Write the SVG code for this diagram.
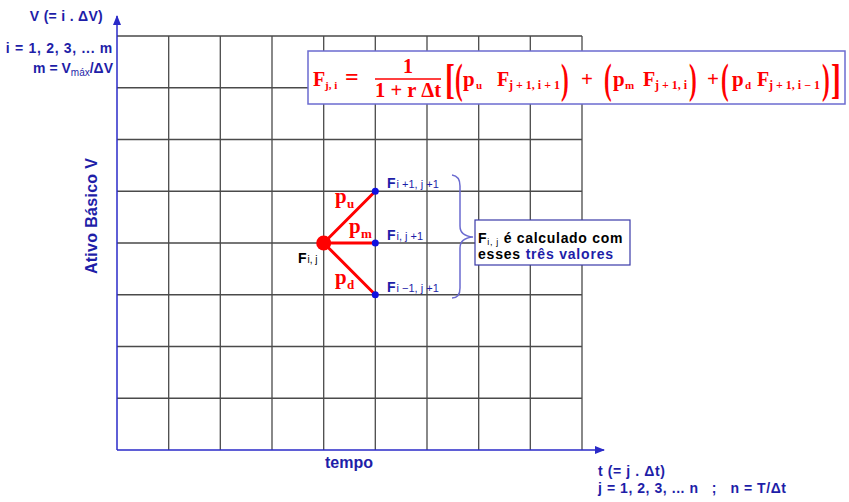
<svg xmlns="http://www.w3.org/2000/svg" width="849" height="502" viewBox="0 0 849 502">
<defs>
<style>
.grid{stroke:#4a4a4a;stroke-width:1.3;fill:none}
.axis{stroke:#2a2ac8;stroke-width:1.5;fill:none}
.blue{fill:#1e1ea8;font-family:"Liberation Sans",Arial,sans-serif;font-weight:bold}
.blk{fill:#000;font-family:"Liberation Sans",Arial,sans-serif;font-weight:bold}
.fr{fill:#f00;font-family:"Liberation Serif","Times New Roman",serif;font-weight:bold}
.br{fill:#f00;font-family:"Liberation Serif","Times New Roman",serif;font-weight:bold;font-size:42px}
.edge{stroke:#f00;stroke-width:3;stroke-linecap:round}
.pt{fill:#1010e0}
</style>
<marker id="arr" markerWidth="10" markerHeight="8" refX="9" refY="4" orient="auto" markerUnits="userSpaceOnUse">
<path d="M0,0 L10,4 L0,8 Z" fill="#2a2ac8"/>
</marker>
</defs>
<rect width="849" height="502" fill="#fff"/>

<g id="grid">
<path class="grid" d="M117,36H582M117,87.75H582M117,139.5H582M117,191.25H582M117,243H582M117,294.75H582M117,346.5H582M117,398.25H582"/>
<path class="grid" d="M168.7,36V450M220.3,36V450M272,36V450M323.7,36V450M375.3,36V450M427,36V450M478.7,36V450M530.3,36V450M582,36V450"/>
</g>

<g id="axes">
<line class="axis" x1="117" y1="450" x2="117" y2="16" marker-end="url(#arr)"/>
<line class="axis" x1="117" y1="450" x2="604" y2="450" marker-end="url(#arr)"/>
</g>

<g id="axis-labels">
<text class="blue" x="103" y="21" font-size="14" text-anchor="end" letter-spacing="0.3">V (= i . ΔV)</text>
<text class="blue" x="113" y="53" font-size="14" text-anchor="end" letter-spacing="0.7">i = 1, 2, 3, ... m</text>
<text class="blue" x="113" y="73" font-size="14" text-anchor="end">m = V<tspan font-size="10" font-weight="normal" dy="3">máx</tspan><tspan dy="-3">/ΔV</tspan></text>
<text class="blue" font-size="16" transform="translate(97,216) rotate(-90)" text-anchor="middle" letter-spacing="0.3">Ativo Básico V</text>
<text class="blue" x="325" y="468" font-size="16">tempo</text>
<text class="blue" x="598" y="476" font-size="14" letter-spacing="0.6">t (= j . Δt)</text>
<text class="blue" x="598" y="493" font-size="14" letter-spacing="0.55" xml:space="preserve">j = 1, 2, 3, ... n   ;   n = T/Δt</text>
</g>

<g id="formula">
<rect x="308" y="51" width="537" height="53" fill="#fff" stroke="#6b6bd0" stroke-width="1.5"/>
<text class="fr" x="313" y="86" font-size="20">F</text>
<text class="fr" x="325" y="89" font-size="11">j, i</text>
<text class="fr" x="345" y="85" font-size="24">=</text>
<text class="fr" x="408" y="73" font-size="20" text-anchor="middle">1</text>
<line x1="375" y1="79" x2="441" y2="79" stroke="#f00" stroke-width="1.5"/>
<text class="fr" x="375" y="97" font-size="20" textLength="66" lengthAdjust="spacingAndGlyphs">1 + r Δt</text>
<text class="br" transform="translate(445,93) scale(0.7,1)">[</text>
<text class="br" transform="translate(455,93) scale(0.55,1)">(</text>
<text class="fr" x="463" y="86" font-size="21">p</text>
<text class="fr" x="476" y="89" font-size="11">u</text>
<text class="fr" x="497" y="86" font-size="20">F</text>
<text class="fr" x="509" y="89" font-size="11.5" textLength="51" lengthAdjust="spacingAndGlyphs">j + 1, i + 1</text>
<text class="br" transform="translate(561,93) scale(0.55,1)">)</text>
<text class="fr" x="581" y="86" font-size="21">+</text>
<text class="br" transform="translate(604,93) scale(0.55,1)">(</text>
<text class="fr" x="613" y="86" font-size="21">p</text>
<text class="fr" x="625" y="89" font-size="11">m</text>
<text class="fr" x="643" y="86" font-size="20">F</text>
<text class="fr" x="655" y="89" font-size="11.5" textLength="32" lengthAdjust="spacingAndGlyphs">j + 1, i</text>
<text class="br" transform="translate(689,93) scale(0.55,1)">)</text>
<text class="fr" x="707" y="86" font-size="21">+</text>
<text class="br" transform="translate(721,93) scale(0.55,1)">(</text>
<text class="fr" x="732" y="86" font-size="21">p</text>
<text class="fr" x="745" y="89" font-size="11">d</text>
<text class="fr" x="757" y="86" font-size="20">F</text>
<text class="fr" x="769" y="89" font-size="11.5" textLength="51" lengthAdjust="spacingAndGlyphs">j + 1, i − 1</text>
<text class="br" transform="translate(822,93) scale(0.55,1)">)</text>
<text class="br" transform="translate(831,93) scale(0.7,1)">]</text>
</g>

<g id="connectors">
<line class="edge" x1="323.7" y1="243" x2="375.3" y2="191.25"/>
<line class="edge" x1="323.7" y1="243" x2="375.3" y2="243"/>
<line class="edge" x1="323.7" y1="243" x2="375.3" y2="294.75"/>
<path d="M452,175 Q460,176 460,186 V226 Q460,236 473,237 Q460,238 460,248 V288 Q460,298 452,298" fill="none" stroke="#6b6bd0" stroke-width="1.5"/>
</g>

<g id="edge-labels">
<text class="fr" x="335" y="203" font-size="21">p</text>
<text class="fr" x="347" y="208" font-size="13">u</text>
<text class="fr" x="349" y="233" font-size="21">p</text>
<text class="fr" x="361" y="238" font-size="13">m</text>
<text class="fr" x="335" y="284" font-size="21">p</text>
<text class="fr" x="347" y="289" font-size="13">d</text>
</g>

<g id="node-fij">
<circle cx="323.7" cy="243" r="7.5" fill="#f00"/>
<text class="blk" x="298" y="263" font-size="14">F<tspan font-size="10" font-weight="normal" dx="1">i, j</tspan></text>
</g>
<g id="node-up">
<circle class="pt" cx="375.3" cy="191.25" r="3.5"/>
<text class="blue" x="387" y="188" font-size="14">F<tspan font-size="11" font-weight="normal" dx="1" xml:space="preserve">i +1, j +1</tspan></text>
</g>
<g id="node-mid">
<circle class="pt" cx="375.3" cy="243" r="3.5"/>
<text class="blue" x="387" y="240" font-size="14">F<tspan font-size="11" font-weight="normal" dx="1">i, j +1</tspan></text>
</g>
<g id="node-down">
<circle class="pt" cx="375.3" cy="294.75" r="3.5"/>
<text class="blue" x="387" y="292" font-size="14">F<tspan font-size="11" font-weight="normal" dx="1">i −1, j +1</tspan></text>
</g>

<g id="note">
<rect x="475" y="220" width="155" height="45" fill="#fff" stroke="#3a3aa8" stroke-width="1.2"/>
<text class="blk" x="478" y="243" font-size="14" letter-spacing="0.7">F<tspan font-size="9" font-weight="normal" dy="2">i, j</tspan><tspan dy="-2"> é calculado com</tspan></text>
<text class="blk" x="478" y="259" font-size="14" letter-spacing="0.8">esses <tspan fill="#1e1ea8">três valores</tspan></text>
</g>
</svg>
